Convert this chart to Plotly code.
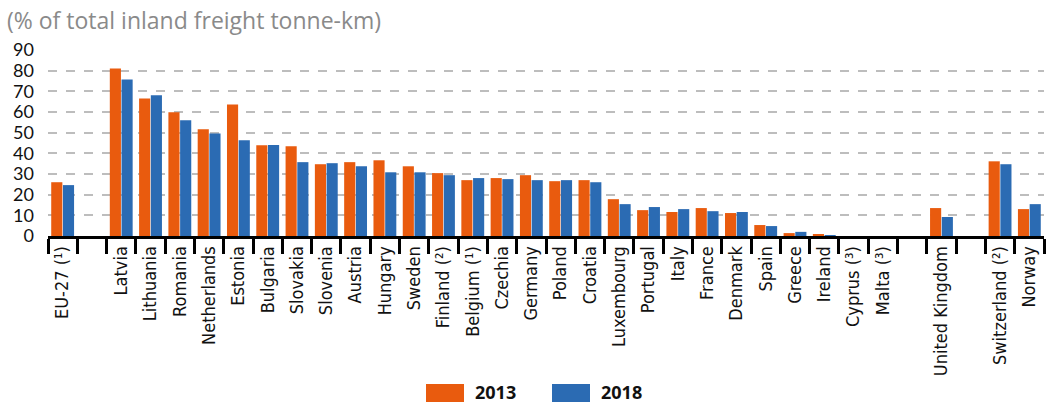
import plotly.graph_objects as go

categories = ["EU-27 (¹)", " ", "Latvia", "Lithuania", "Romania", "Netherlands", "Estonia",
              "Bulgaria", "Slovakia", "Slovenia", "Austria", "Hungary", "Sweden", "Finland (²)",
              "Belgium (¹)", "Czechia", "Germany", "Poland", "Croatia", "Luxembourg", "Portugal",
              "Italy", "France", "Denmark", "Spain", "Greece", "Ireland", "Cyprus (³)", "Malta (³)",
              "  ", "United Kingdom", "   ", "Switzerland (²)", "Norway"]

v2013 = [26.0, None, 81.0, 66.5, 59.8, 51.6, 63.6, 43.9, 43.4, 34.7, 35.7, 36.6, 33.7, 30.4,
         27.0, 28.0, 29.4, 26.5, 27.0, 17.8, 12.5, 11.6, 13.5, 11.1, 5.3, 1.4, 0.9, None, None,
         None, 13.5, None, 36.1, 13.0]
v2018 = [24.6, None, 75.7, 68.0, 55.9, 49.6, 46.3, 44.0, 35.7, 35.2, 33.7, 30.8, 30.8, 29.4,
         28.0, 27.5, 27.0, 27.0, 26.0, 15.4, 14.0, 13.0, 12.0, 11.6, 4.8, 2.0, 0.1, None, None,
         None, 9.2, None, 34.7, 15.4]

series_names = ["2013", "2018"]
colors = ["#E95B0E", "#2B6BB3"]

fig = go.Figure()
for name, vals, col in zip(series_names, [v2013, v2018], colors):
    fig.add_trace(go.Bar(x=categories, y=vals, name=name, marker=dict(color=col, line=dict(width=0)),
                         showlegend=False))

# plot area in pixels
L, R, T, B = 48, 1044, 49, 236
W, H = R - L, B - T

def px(x):
    return (x - L) / W

def py(y):
    return (B - y) / H

# legend drawn as boxes + labels
legend_items = [("2013", colors[0], 426), ("2018", colors[1], 552)]
for label, col, x0 in legend_items:
    fig.add_shape(type="rect", xref="paper", yref="paper",
                  x0=px(x0), x1=px(x0 + 38), y0=py(402), y1=py(384),
                  fillcolor=col, line=dict(width=0))
    fig.add_annotation(xref="paper", yref="paper", x=px(x0 + 47), y=py(392),
                       text="<b>" + label + "</b>", showarrow=False, xanchor="left", yanchor="middle",
                       font=dict(family="Open Sans", size=18, color="#111"))

fig.add_annotation(xref="paper", yref="paper", x=px(5), y=py(20), text="(% of total inland freight tonne-km)",
                   showarrow=False, xanchor="left", yanchor="middle",
                   font=dict(family="Open Sans", size=23, color="#8a8a8a"))

fig.update_layout(
    width=1051, height=403,
    margin=dict(l=L, r=1051 - R, t=T, b=403 - B, autoexpand=False),
    paper_bgcolor="white", plot_bgcolor="white",
    barmode="group", bargap=0.2, bargroupgap=0.05,
    xaxis=dict(type="category", tickson="boundaries", ticks="outside", ticklen=15, tickwidth=2.5,
               tickcolor="black", showline=True, linecolor="black", linewidth=3,
               showgrid=False, tickangle=-90, automargin=False,
               tickfont=dict(family="Liberation Sans Narrow, DejaVu Sans Condensed", size=18, color="#111")),
    yaxis=dict(range=[0, 90.4], dtick=10, tick0=0, showgrid=True, gridcolor="#bdbdbd", griddash="dash",
               gridwidth=1.5, zeroline=False, ticks="", ticklabelstandoff=13, automargin=False,
               tickfont=dict(family="Lato", size=18, color="#111")),
)

fig.write_html("out.html", config={"displayModeBar": False},
               post_script="document.body.style.margin='0';document.body.style.overflow='hidden';")
